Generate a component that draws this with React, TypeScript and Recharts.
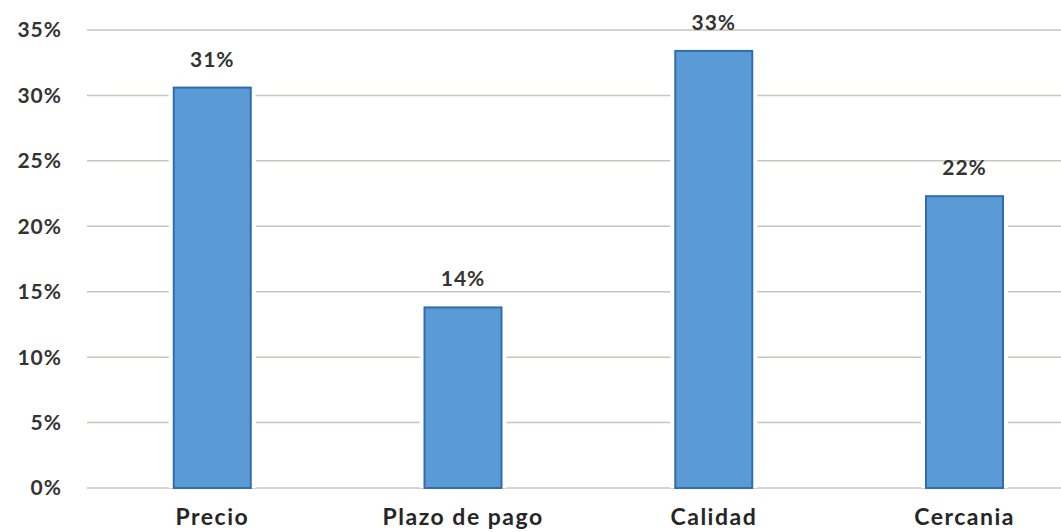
import { BarChart, Bar, XAxis, YAxis, CartesianGrid, LabelList } from "recharts";

const categories = ["Precio", "Plazo de pago", "Calidad", "Cercania"];
const values = [30.6, 13.8, 33.4, 22.3];
const yTicks = [0, 5, 10, 15, 20, 25, 30, 35];

const data = categories.map((name, i) => ({ name, value: values[i] }));

const FONT = "Lato, 'Open Sans', sans-serif";

// barra con un margen blanco que corta las líneas de la cuadrícula
const BarShape = (props: any) => {
  const { x, y, width, height } = props;
  if (!height || height <= 0) return null;
  return (
    <g>
      <rect x={x - 5} y={y} width={width + 10} height={height} fill="#ffffff" />
      <rect
        x={x}
        y={y}
        width={width}
        height={height}
        fill="#5b9bd5"
        stroke="#2f6db0"
        strokeWidth={2}
      />
    </g>
  );
};

export default function App() {
  return (
    <div
      style={{
        position: "fixed",
        left: 0,
        top: 0,
        width: 1061,
        height: 532,
        overflow: "hidden",
        background: "#ffffff",
      }}
    >
      <BarChart
        width={1100}
        height={532}
        data={data}
        margin={{ top: 30, right: 10, left: 0, bottom: 0 }}
        barCategoryGap="34.6%"
      >
        <CartesianGrid vertical={false} stroke="#c9c5bd" strokeWidth={1.5} />
        <XAxis
          dataKey="name"
          axisLine={false}
          tickLine={false}
          tickSize={0}
          tickMargin={21}
          height={44}
          interval={0}
          tick={{
            fill: "#262626",
            fontSize: 23,
            fontFamily: FONT,
            fontWeight: 700,
            letterSpacing: 1.5,
          }}
        />
        <YAxis
          width={87}
          domain={[0, 35]}
          ticks={yTicks}
          axisLine={false}
          tickLine={false}
          tickSize={0}
          tickMargin={25}
          tickFormatter={(v: number) => `${v}%`}
          tick={{
            fill: "#333333",
            fontSize: 21,
            fontFamily: FONT,
            fontWeight: 700,
            letterSpacing: 1,
          }}
        />
        <Bar dataKey="value" shape={BarShape} isAnimationActive={false}>
          <LabelList
            dataKey="value"
            position="top"
            offset={21}
            formatter={(v: any) => `${Math.round(Number(v))}%`}
            style={{
              fill: "#333333",
              fontSize: 21,
              fontFamily: FONT,
              fontWeight: 700,
              letterSpacing: 1,
            }}
          />
        </Bar>
      </BarChart>
    </div>
  );
}
